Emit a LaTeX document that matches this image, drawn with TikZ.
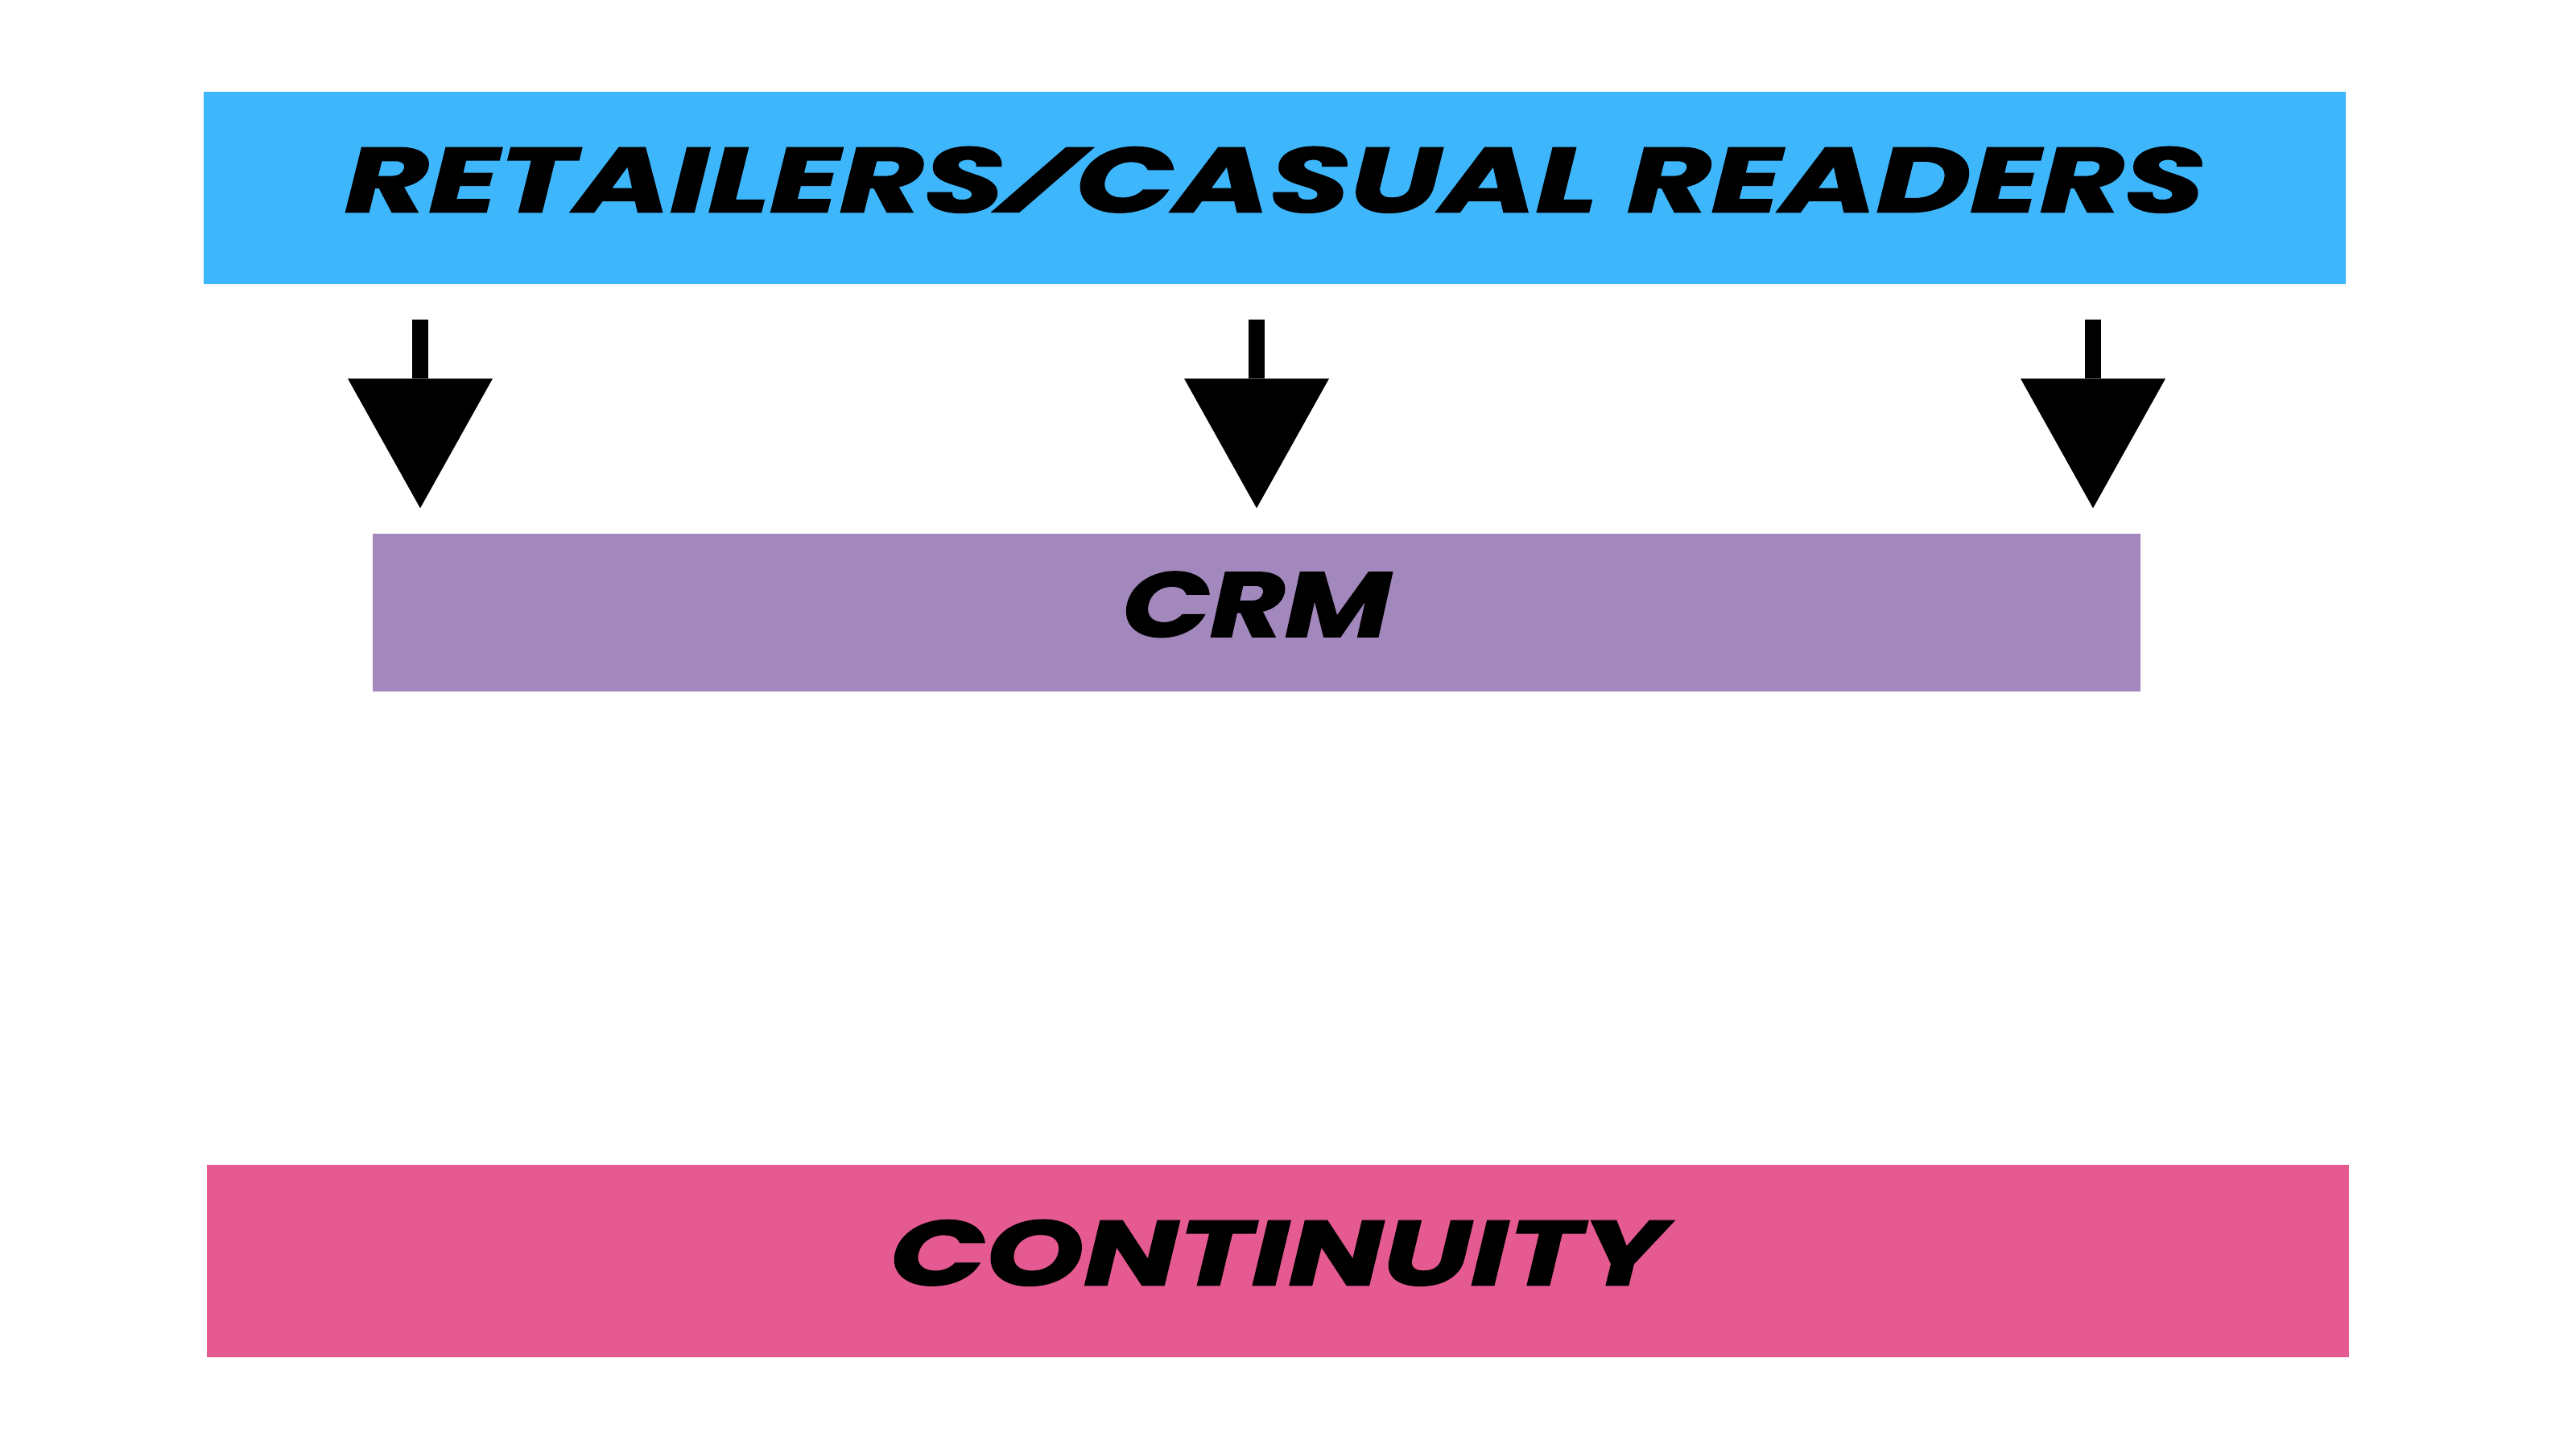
\documentclass[tikz,border=0pt]{standalone}
\usepackage{fontspec}
\usetikzlibrary{arrows.meta}
\newfontfamily\bandfont{Poppins}[BoldItalicFeatures={FakeBold=1.5}]
\definecolor{readers}{HTML}{3EB6FC}
\definecolor{crm}{HTML}{A288BC}
\definecolor{cont}{HTML}{E55A90}
\newcommand{\bandtext}[2]{\raisebox{1mm}[8mm][0pt]{\resizebox{#1mm}{8mm}{\bandfont\bfseries\itshape\vphantom{E}\smash{#2}}}}
\newcommand{\capslash}{\raisebox{\depth}{\resizebox*{1.23\width}{\fontcharht\font`E}{/}}}
\tikzset{band/.style={inner sep=0pt,minimum height=23.9mm,minimum width=266.1mm},
  down/.style={line width=1.95mm,-{Triangle[length=16.1mm,width=18mm,line width=0pt]},shorten <=4.3mm,shorten >=3.1mm}}

\begin{document}
\begin{tikzpicture}[x=1mm,y=1mm]
  \useasboundingbox (0,0) rectangle (320,180);
  \node[band,fill=readers] (readers) at (158.35,156.65){\bandtext{231}{RETAILERS\capslash CASUAL READERS}};
  \node[band,fill=crm,minimum width=219.6mm,minimum height=19.6mm] (crm) at (156.1,103.9){\bandtext{33.3}{CRM}};
  \node[band,fill=cont] (continuity) at (158.75,23.35){\bandtext{96.3}{CONTINUITY}};
  \foreach \x in {52.2,156.1,260}{\draw[down] (\x,0 |- readers.south) -- (\x,0 |- crm.north);}
\end{tikzpicture}
\end{document}
